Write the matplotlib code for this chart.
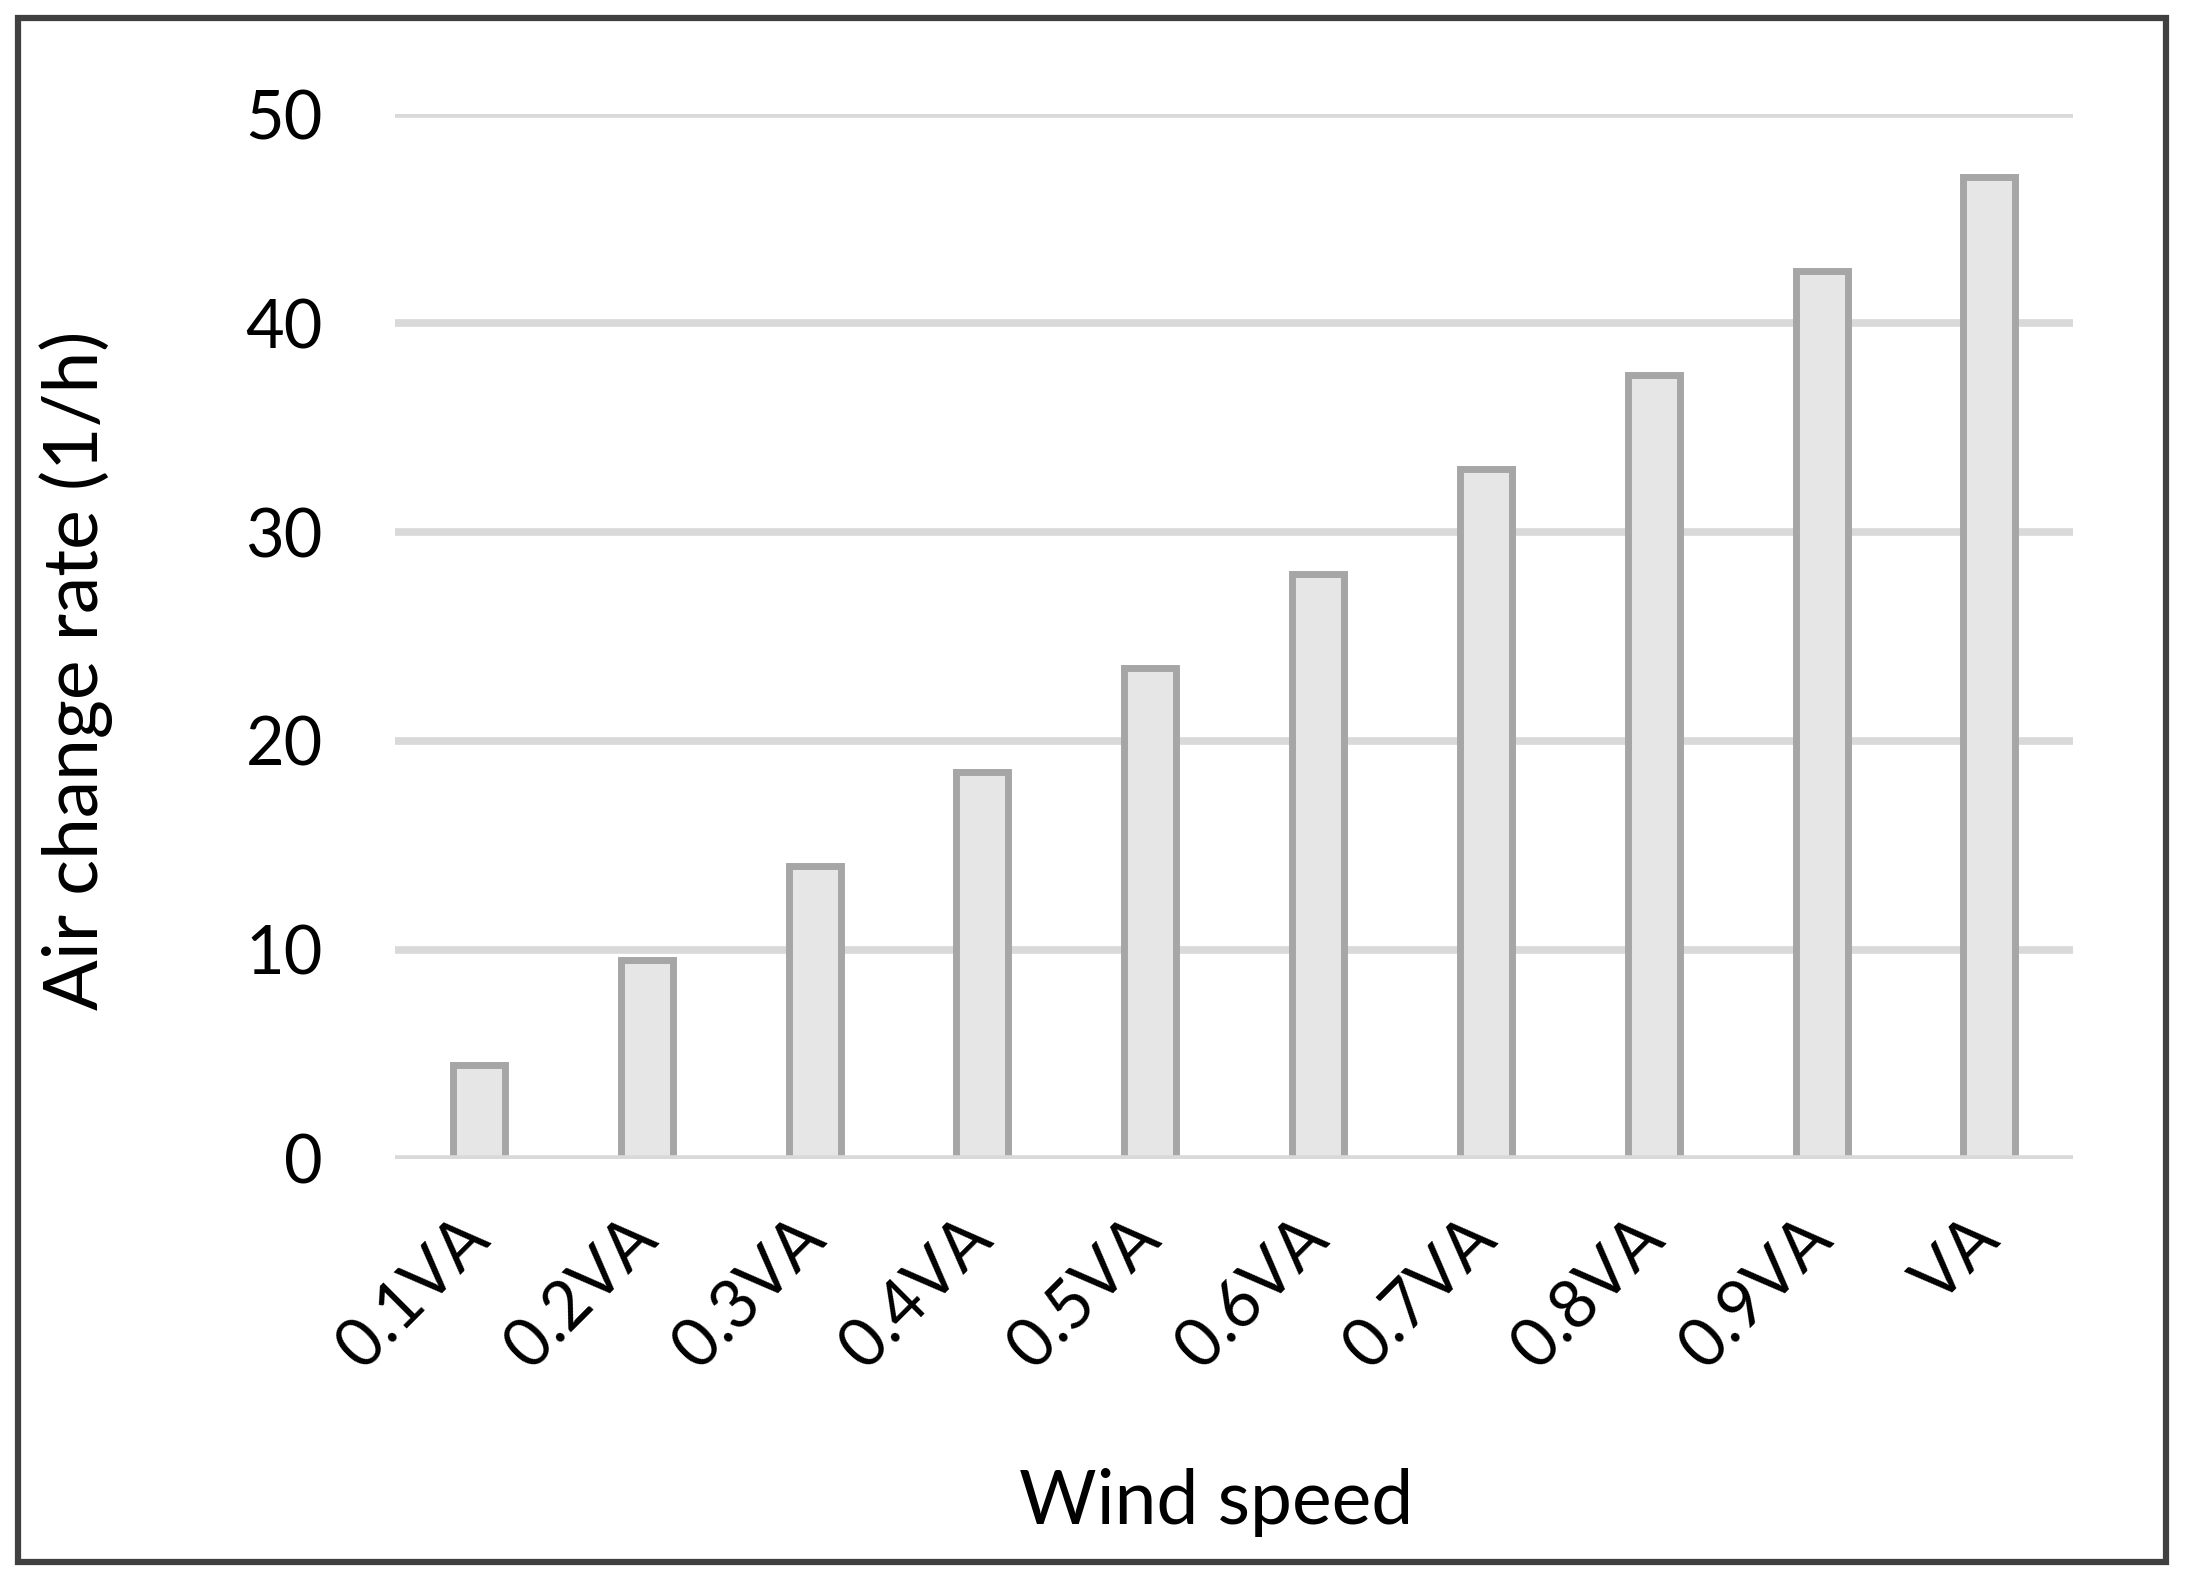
import matplotlib
matplotlib.use("Agg")
import matplotlib.pyplot as plt
from matplotlib.patches import Rectangle

# wind speed categories and air change rate (1/h)
speeds = ["0.1VA", "0.2VA", "0.3VA", "0.4VA", "0.5VA",
          "0.6VA", "0.7VA", "0.8VA", "0.9VA", "VA"]
ach = [4.5, 9.5, 14.0, 18.5, 23.5, 28.0, 33.0, 37.5, 42.5, 47.0]
yticks = [0, 10, 20, 30, 40, 50]

plt.rcParams["font.family"] = ["Lato", "DejaVu Sans"]

fig = plt.figure(figsize=(21.87, 15.80), dpi=100)
ax = fig.add_axes([0.1806, 0.2665, 0.948 - 0.1806, 0.9278 - 0.2665])

x = range(len(speeds))
ax.bar(x, ach, width=0.31, color="#E6E6E6", edgecolor="#A6A6A6",
       linewidth=5, zorder=2)

# gridlines like excel
for v in yticks:
    ax.axhline(v, color="#D9D9D9", lw=5.5, zorder=3 if v == 0 else 1)

ax.set_xlim(-0.5, len(speeds) - 0.5)
ax.set_ylim(0, 50)
ax.set_yticks(yticks)
ax.set_xticks(list(x))
ax.set_xticklabels(speeds, rotation=45, ha="right", va="center",
                   rotation_mode="anchor", fontsize=48)
ax.tick_params(axis="y", length=0, pad=52, labelsize=48)
ax.tick_params(axis="x", length=0, pad=50)
for s in ax.spines.values():
    s.set_visible(False)

fig.text(0.035, 0.576, "Air change rate (1/h)", rotation=90,
         ha="center", va="center", fontsize=54)
fig.text(0.556, 0.049, "Wind speed", ha="center", va="center", fontsize=54)

# outer frame
fig.patches.append(Rectangle((0.0082, 0.0114), 0.9823, 0.9772,
                             transform=fig.transFigure, fill=False,
                             edgecolor="#404040", lw=4.5))

fig.savefig("out.png", dpi=100)
